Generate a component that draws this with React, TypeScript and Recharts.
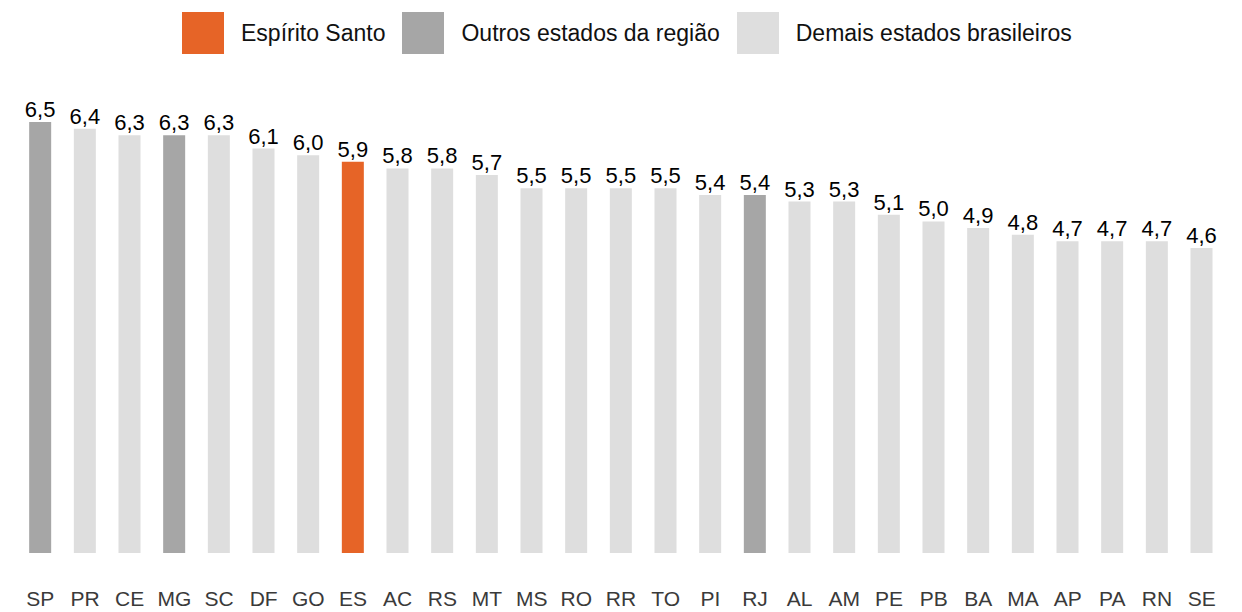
import { BarChart, Bar, XAxis, YAxis, Cell, LabelList } from "recharts";

const estados = ["SP", "PR", "CE", "MG", "SC", "DF", "GO", "ES", "AC", "RS", "MT", "MS", "RO", "RR", "TO", "PI", "RJ", "AL", "AM", "PE", "PB", "BA", "MA", "AP", "PA", "RN", "SE"];
const valores = [6.5, 6.4, 6.3, 6.3, 6.3, 6.1, 6.0, 5.9, 5.8, 5.8, 5.7, 5.5, 5.5, 5.5, 5.5, 5.4, 5.4, 5.3, 5.3, 5.1, 5.0, 4.9, 4.8, 4.7, 4.7, 4.7, 4.6];
// 0 = Espírito Santo, 1 = outros da região, 2 = demais
const grupos = [1, 2, 2, 1, 2, 2, 2, 0, 2, 2, 2, 2, 2, 2, 2, 2, 1, 2, 2, 2, 2, 2, 2, 2, 2, 2, 2];
const legendas = ["Espírito Santo", "Outros estados da região", "Demais estados brasileiros"];

const cores = ["#E66427", "#A6A6A6", "#DEDEDE"];
const fonte = "'Liberation Sans', Arial, sans-serif";

const data = estados.map((uf, i) => ({ uf, valor: valores[i], grupo: grupos[i] }));

const fmt = (v: any) => Number(v).toFixed(1).replace(".", ",");

function Tick(props: any) {
  const { x, y, payload } = props;
  return (
    <text x={x} y={y} dy={45} textAnchor="middle" fill="#3a3a3a" fontSize={21} fontFamily={fonte}>
      {payload.value}
    </text>
  );
}

export default function App() {
  return (
    <div style={{ position: "absolute", left: 0, top: 0, width: 1242, height: 612, background: "#fff" }}>
      <div
        style={{
          position: "absolute",
          left: 182,
          top: 12,
          display: "flex",
          alignItems: "center",
          fontFamily: fonte,
          fontSize: 23,
          color: "#111",
        }}
      >
        {legendas.map((l, i) => (
          <div key={l} style={{ display: "flex", alignItems: "center", marginRight: 17 }}>
            <div style={{ width: 42, height: 42, background: cores[i], marginRight: 17 }} />
            <span>{l}</span>
          </div>
        ))}
      </div>
      <BarChart
        width={1242}
        height={612}
        data={data}
        margin={{ top: 122, right: 18, bottom: 0, left: 18 }}
        barCategoryGap="25%"
      >
        <XAxis
          dataKey="uf"
          axisLine={false}
          tickLine={false}
          interval={0}
          height={59}
          tick={<Tick />}
        />
        <YAxis hide domain={[0, 6.5]} />
        <Bar dataKey="valor" isAnimationActive={false}>
          {data.map((d, i) => (
            <Cell key={`cell-${i}`} fill={cores[d.grupo]} />
          ))}
          <LabelList
            dataKey="valor"
            position="top"
            offset={5}
            formatter={fmt}
            fill="#000"
            fontSize={22}
            fontFamily={fonte}
          />
        </Bar>
      </BarChart>
    </div>
  );
}
